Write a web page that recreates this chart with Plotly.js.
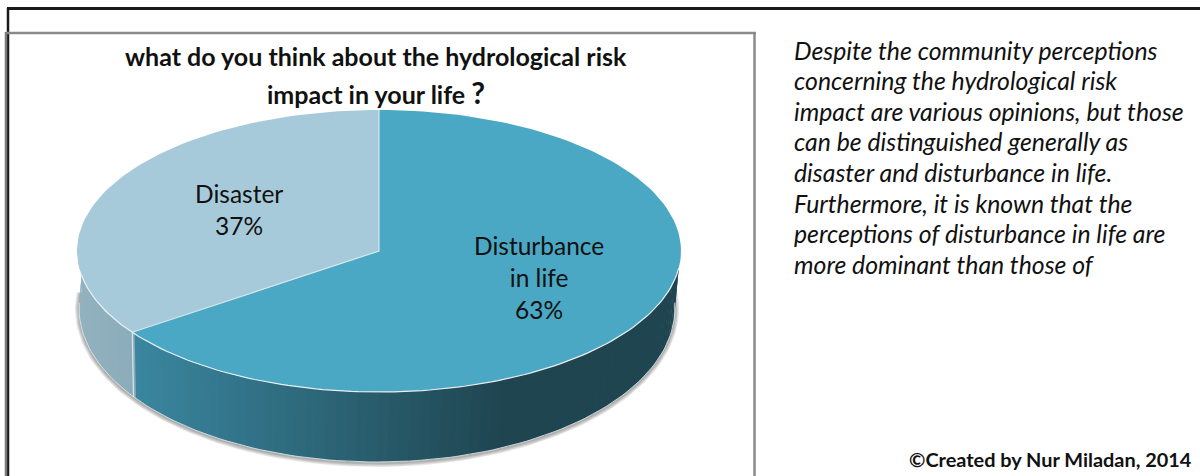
<!DOCTYPE html>
<html><head><meta charset="utf-8">
<script src="https://cdn.plot.ly/plotly-3.0.1.min.js"></script>
<style>html,body{margin:0;padding:0;background:#fff}#c{width:1200px;height:476px}</style></head>
<body><div id="c"></div>
<script>
var categories = ['Disaster', 'Disturbance<br>in life'];
var shares = [37, 63];
var titleLines = ['what do you think about the hydrological risk', 'impact in your life <span style="font-size:30px">?</span>'];
var noteLines = ['Despite the community perceptions','concerning the hydrological risk','impact are various opinions, but those','can be distinguished generally as','disaster and disturbance in life.','Furthermore, it is known that the','perceptions of disturbance in life are','more dominant than those of'];
var credit = '©Created by Nur Miladan, 2014';

var top_ = {cx:379, cy:251, rx:302, ry:141};
var bot = {cx:377, cy:308, rx:298, ry:154};
var foreshorten = 0.94;
var rad = Math.PI/180;
function pt(e,t){return [e.cx - e.rx*Math.sin(t*rad), e.cy - e.ry*Math.cos(t*rad)];}
function arc(e,a,b,n){var o=[];for(var i=0;i<=n;i++){o.push(pt(e,a+(b-a)*i/n));}return o;}
var total = shares[0]+shares[1];
var split = shares[0]/total*360*foreshorten;
function mix(a,b,f){return 'rgb('+a.map(function(v,i){return Math.round(v+(b[i]-v)*f);}).join(',')+')';}
function poly(p,color,extra){var tr={x:p.map(function(q){return q[0];}),y:p.map(function(q){return q[1];}),mode:'lines',fill:'toself',fillcolor:color,line:{width:0},hoverinfo:'skip',type:'scatter'};return Object.assign(tr,extra||{});}
function stroke(p,color,w){return {x:p.map(function(q){return q[0];}),y:p.map(function(q){return q[1];}),mode:'lines',line:{color:color,width:w},hoverinfo:'skip',type:'scatter'};}
function clampTop(t){return Math.min(263,Math.max(100,t));}

var traces=[];
[4,3,2,1].forEach(function(g){
  var e={cx:bot.cx,cy:bot.cy+1,rx:bot.rx+g,ry:bot.ry+g};
  traces.push(poly(arc(e,84,276,120),'rgba(60,60,60,0.12)'));
});
for(var t=80;t<280;t+=2){
  var b=arc(bot,t,t+2.4,1);
  var a=[pt(top_,clampTop(t)),pt(top_,clampTop(t+2.4))];
  var x=(a[0][0]+a[1][0])/2, col;
  if(t<split){ col=mix([146,178,192],[138,171,185],(x-80)/60); }
  else { var f=Math.min(1,Math.max(0,(x-135)/370)); col=mix([58,135,160],[31,69,80],f); }
  traces.push(poly([a[0],a[1],b[1],b[0]],col));
}
traces.push(stroke(arc(bot,88,272,120),'rgba(225,232,235,0.85)',1));
traces.push(stroke([pt(top_,split),pt(bot,split)],'rgba(225,235,240,0.9)',1.2));
traces.push(poly([[top_.cx,top_.cy]].concat(arc(top_,0,split,80)),'#A7CADA'));
traces.push(poly([[top_.cx,top_.cy]].concat(arc(top_,split,360,140)),'#4AA8C4'));
traces.push(stroke(arc(top_,100,263,120),'rgba(238,243,245,0.95)',1.2));
traces.push(stroke([pt(top_,0),[top_.cx,top_.cy],pt(top_,split)],'rgba(222,236,242,0.9)',1.2));

var ann=[];
function add(txt,x,y,size,opts){ann.push(Object.assign({x:x,y:y,xref:'x',yref:'y',text:txt,showarrow:false,xanchor:'center',yanchor:'middle',font:{family:'Lato, Carlito, sans-serif',size:size,color:'#111'}},opts||{}));}
add('<b>'+titleLines[0]+'</b>',376,56,25);
add('<b>'+titleLines[1]+'</b>',376,92,25);
add(categories[0]+'<br>'+shares[0]+'%',239,209,24.5);
add(categories[1]+'<br>'+shares[1]+'%',539,277,24.5);
noteLines.forEach(function(s,i){add('<i>'+s+'</i>',791.5,50+i*30.6,24.8,{xanchor:'left'});});
add('<b>'+credit+'</b>',1194,459,19.9,{xanchor:'right'});

var shapes=[
 {type:'line',xref:'x',yref:'y',x0:7,x1:1200,y0:8.5,y1:8.5,line:{color:'#1a1a1a',width:3}},
 {type:'line',xref:'x',yref:'y',x0:8,x1:8,y0:8,y1:476,line:{color:'#1a1a1a',width:2.5}},
 {type:'line',xref:'x',yref:'y',x0:6,x1:756,y0:33,y1:33,line:{color:'#8a8a8a',width:2.5}},
 {type:'line',xref:'x',yref:'y',x0:6,x1:6,y0:32,y1:476,line:{color:'#7a7a7a',width:2.5}},
 {type:'line',xref:'x',yref:'y',x0:754.5,x1:754.5,y0:32,y1:476,line:{color:'#8a8a8a',width:2.5}}
];
var ax={visible:false,fixedrange:true};
Plotly.newPlot('c',traces,{
  width:1200,height:476,margin:{l:0,r:0,t:0,b:0},showlegend:false,paper_bgcolor:'#fff',plot_bgcolor:'#fff',
  xaxis:Object.assign({range:[0,1200]},ax),yaxis:Object.assign({range:[476,0]},ax),
  annotations:ann,shapes:shapes
},{displayModeBar:false,staticPlot:true});
</script></body></html>
